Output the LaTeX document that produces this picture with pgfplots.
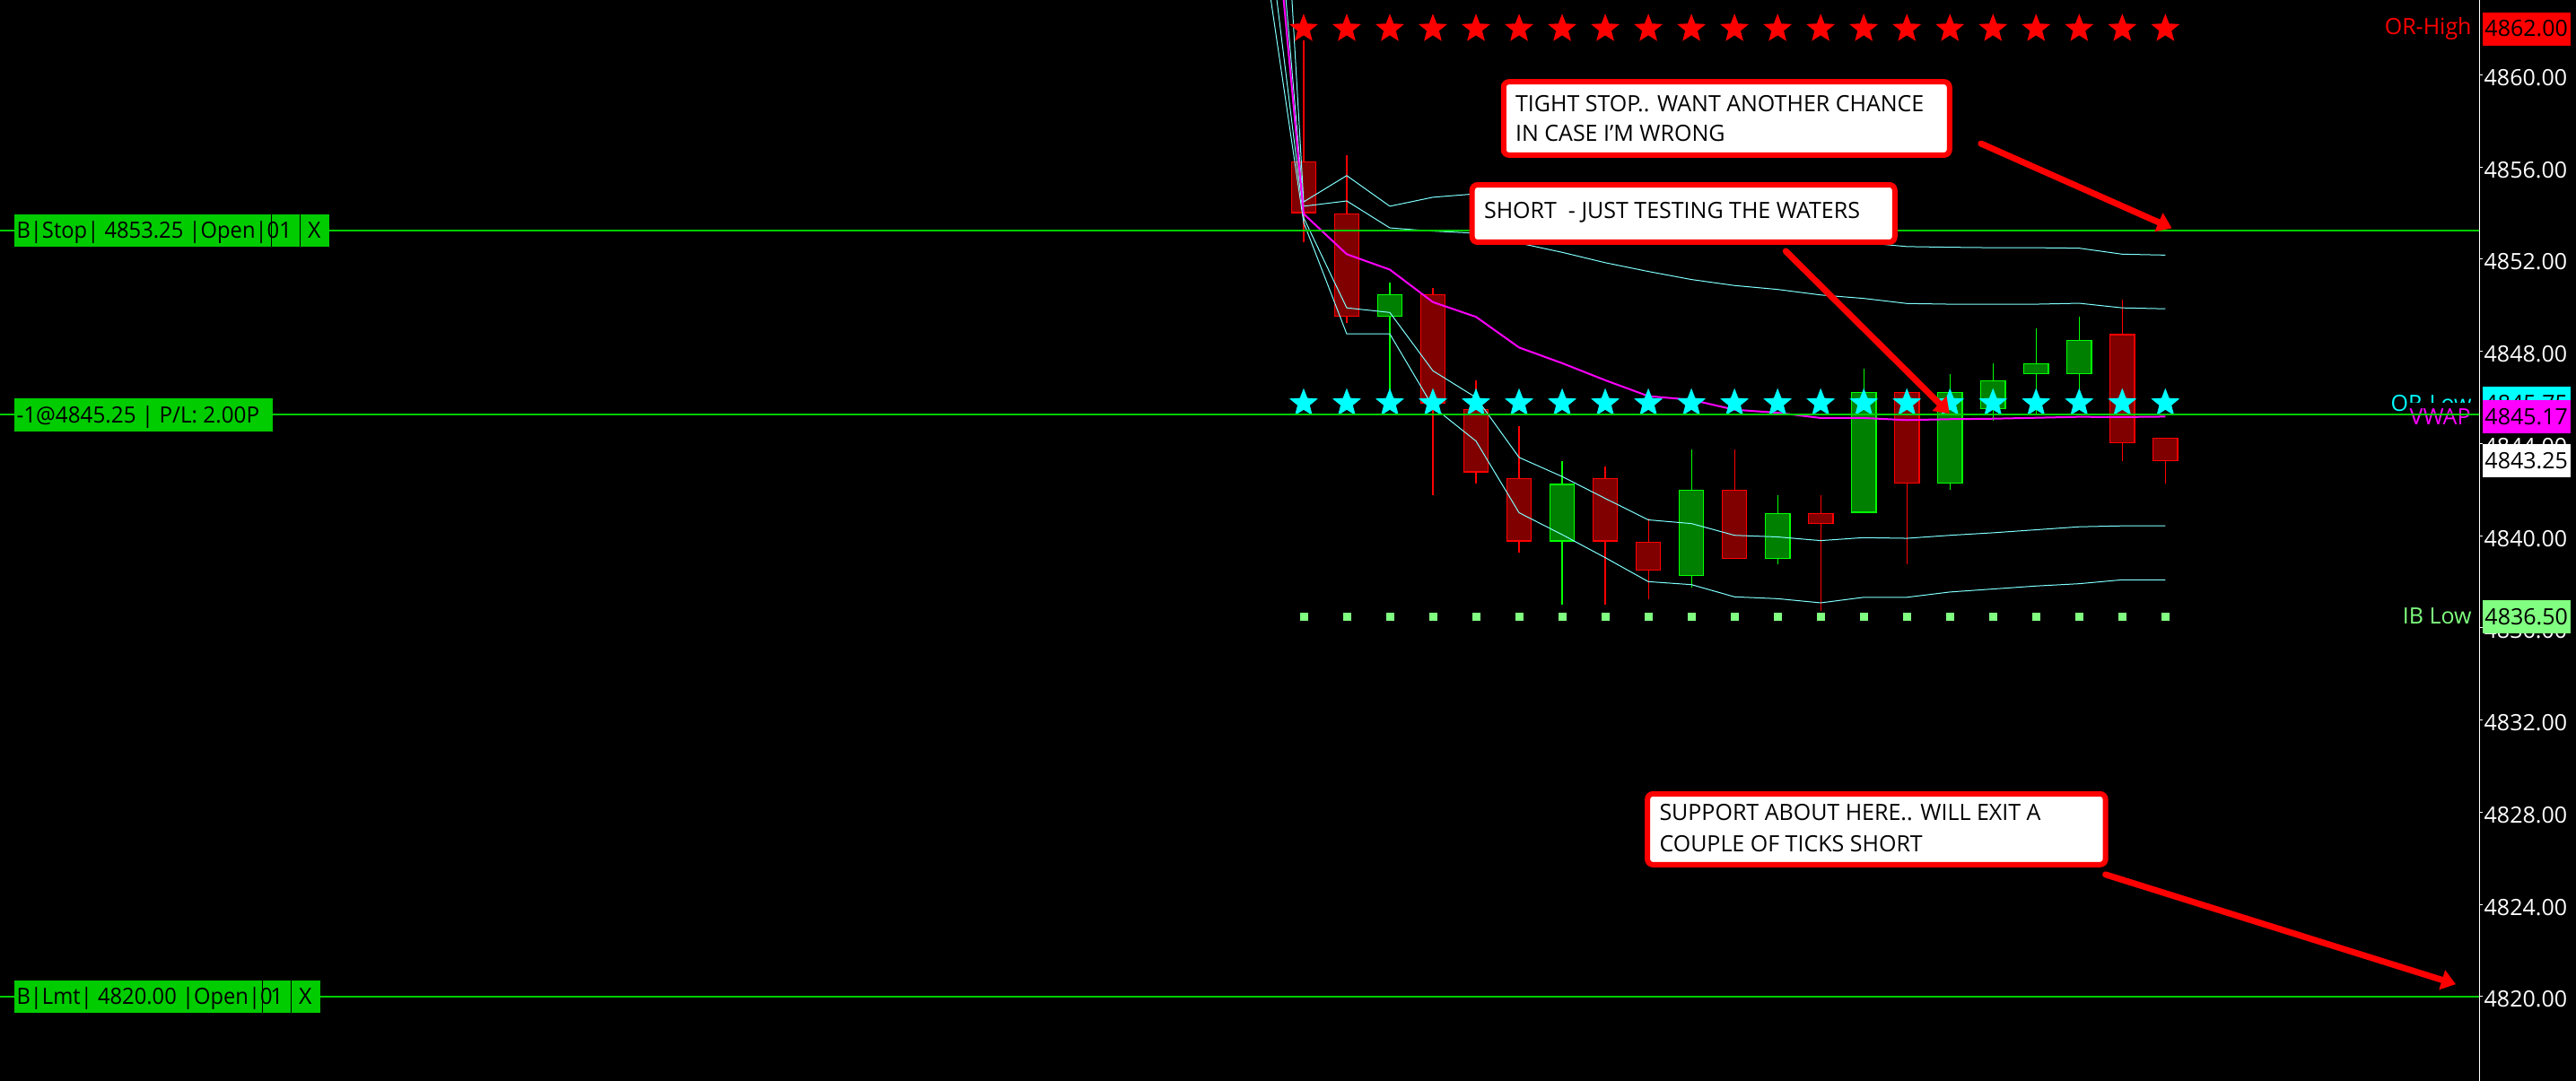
\documentclass[border=0pt]{standalone}
\usepackage{fontspec}
\setmainfont{Open Sans}
\usepackage{pgfplots}
\usepackage{pgfplotstable}
\pgfplotsset{compat=1.18}
\usetikzlibrary{arrows.meta}

\definecolor{cdn}{RGB}{255,0,0}
\definecolor{cdnfill}{RGB}{128,0,0}
\definecolor{cup}{RGB}{0,255,0}
\definecolor{cupfill}{RGB}{0,128,0}
\definecolor{band}{RGB}{128,255,255}
\definecolor{vwap}{RGB}{255,0,255}
\definecolor{lvl}{RGB}{0,204,0}
\definecolor{ib}{RGB}{128,255,128}
\definecolor{orlow}{RGB}{0,255,255}

\newcommand\fsz{\fontsize{12.5bp}{15bp}\selectfont}

\pgfdeclareplotmark{fstar}{%
  \pgfpathmoveto{\pgfpointpolar{90}{\pgfplotmarksize}}%
  \pgfpathlineto{\pgfpointpolar{126}{0.43\pgfplotmarksize}}%
  \pgfpathlineto{\pgfpointpolar{162}{\pgfplotmarksize}}%
  \pgfpathlineto{\pgfpointpolar{198}{0.43\pgfplotmarksize}}%
  \pgfpathlineto{\pgfpointpolar{234}{\pgfplotmarksize}}%
  \pgfpathlineto{\pgfpointpolar{270}{0.43\pgfplotmarksize}}%
  \pgfpathlineto{\pgfpointpolar{306}{\pgfplotmarksize}}%
  \pgfpathlineto{\pgfpointpolar{342}{0.43\pgfplotmarksize}}%
  \pgfpathlineto{\pgfpointpolar{18}{\pgfplotmarksize}}%
  \pgfpathlineto{\pgfpointpolar{54}{0.43\pgfplotmarksize}}%
  \pgfpathclose
  \pgfusepathqfill
}

% candles: index, low, body low, body high, high
\pgfplotstableread{
i   lo      bl      bh      hi
0   4852.75 4854.00 4856.25 4861.50
1   4849.25 4849.50 4854.00 4856.50
3   4841.75 4845.75 4850.50 4850.75
4   4842.25 4842.75 4845.50 4846.75
5   4839.25 4839.75 4842.50 4844.75
7   4837.00 4839.75 4842.50 4843.00
8   4837.25 4838.50 4839.75 4840.75
10  4839.00 4839.00 4842.00 4843.75
12  4836.75 4840.50 4841.00 4841.75
14  4838.75 4842.25 4846.25 4846.25
19  4843.25 4844.00 4848.75 4850.25
20  4842.25 4843.25 4844.25 4844.25
}\down

\pgfplotstableread{
i   lo      bl      bh      hi
2   4845.75 4849.50 4850.50 4851.00
6   4837.00 4839.75 4842.25 4843.25
9   4837.75 4838.25 4842.00 4843.75
11  4838.75 4839.00 4841.00 4841.75
13  4841.00 4841.00 4846.25 4847.25
15  4842.00 4842.25 4846.25 4847.00
16  4845.00 4845.50 4846.75 4847.50
17  4845.25 4847.00 4847.50 4849.00
18  4845.50 4847.00 4848.50 4849.50
}\upc

\pgfplotstableread{
i   u2      u1      vw      l1      l2
-1  4886.90 4876.10 4874.00 4869.00 4866.30
0   4854.49 4854.30 4853.97 4853.80 4853.60
1   4855.63 4854.53 4852.22 4849.89 4848.76
2   4854.30 4853.36 4851.55 4849.69 4848.76
3   4854.69 4853.22 4850.14 4847.16 4845.60
4   4854.84 4853.13 4849.50 4846.00 4844.11
5   4854.52 4852.70 4848.17 4843.40 4841.00
6   4854.21 4852.30 4847.49 4842.57 4840.05
7   4853.87 4851.85 4846.75 4841.62 4839.05
8   4853.57 4851.47 4846.06 4840.69 4838.01
9   4853.33 4851.12 4845.90 4840.53 4837.88
10  4853.11 4850.86 4845.47 4840.02 4837.35
11  4852.98 4850.69 4845.34 4839.95 4837.27
12  4852.85 4850.45 4845.11 4839.79 4837.09
13  4852.72 4850.30 4845.11 4839.92 4837.33
14  4852.55 4850.08 4845.02 4839.89 4837.33
15  4852.52 4850.05 4845.06 4840.02 4837.56
16  4852.50 4850.05 4845.08 4840.13 4837.69
17  4852.50 4850.05 4845.12 4840.26 4837.82
18  4852.48 4850.09 4845.16 4840.39 4837.92
19  4852.22 4849.89 4845.15 4840.43 4838.09
20  4852.18 4849.85 4845.17 4840.43 4838.09
}\bands

\pgfplotstableread{
i  orh   orl      ibl
0  4862  4845.75  4836.5
1  4862  4845.75  4836.5
2  4862  4845.75  4836.5
3  4862  4845.75  4836.5
4  4862  4845.75  4836.5
5  4862  4845.75  4836.5
6  4862  4845.75  4836.5
7  4862  4845.75  4836.5
8  4862  4845.75  4836.5
9  4862  4845.75  4836.5
10 4862  4845.75  4836.5
11 4862  4845.75  4836.5
12 4862  4845.75  4836.5
13 4862  4845.75  4836.5
14 4862  4845.75  4836.5
15 4862  4845.75  4836.5
16 4862  4845.75  4836.5
17 4862  4845.75  4836.5
18 4862  4845.75  4836.5
19 4862  4845.75  4836.5
20 4862  4845.75  4836.5
}\levels

\tikzset{
  note/.style={draw=red, line width=3bp, fill=white, rounded corners=3bp},
  notearrow/.style={draw=red, line width=3.5bp, line cap=round, -{Triangle[length=8bp,width=11bp]}},
  tag/.style={fill=lvl},
  tagtxt/.style={inner sep=0pt, font=\fsz, text=black},
  pbox/.style={anchor=west, inner xsep=1.2bp, inner ysep=0pt, minimum height=18.5bp, text width=46.5bp, align=left, text=black, font=\fsz},
}
\pgfplotsset{
  wick/.style={draw=none, mark=none, forget plot,
    error bars/.cd, y dir=plus, y explicit, error mark=none,
    error bar style={draw=#1, line width=0.6bp}},
  body/.style 2 args={draw=none, mark=none, forget plot,
    error bars/.cd, y dir=plus, y explicit, error mark=none,
    error bar style={draw=#1, line width=#2, line cap=butt}},
}

\begin{document}
\begin{tikzpicture}
\fill[black] (0,0) rectangle (1435.5bp,602.5bp);
\begin{axis}[
  at={(0,0)}, anchor=south west,
  scale only axis, width=1381.65bp, height=602.5bp,
  xmin=-30.257, xmax=27.287, ymin=4816.34, ymax=4863.25,
  axis x line=none, axis y line*=right,
  y axis line style={white, line width=0.5bp, -},
  xtick=\empty,
  ytick={4820,4824,...,4860},
  ytick style={white, line width=0.5bp},
  tick align=outside, major tick length=2bp,
  yticklabel style={font=\fsz, text=white, anchor=west, inner sep=0pt, xshift=0.5bp, yshift=-1.5bp,
    /pgf/number format/fixed, /pgf/number format/fixed zerofill,
    /pgf/number format/precision=2, /pgf/number format/1000 sep={},
    /pgf/number format/assume math mode=true},
  clip mode=individual,
]
% candles: wicks, body border, body fill
\addplot[wick=cdn] table[x=i, y=lo, y error plus expr=\thisrow{hi}-\thisrow{lo}]{\down};
\addplot[body={cdn}{14.35bp}] table[x=i, y=bl, y error plus expr=\thisrow{bh}-\thisrow{bl}]{\down};
\addplot[body={cdnfill}{13.15bp}] table[x=i, y expr=\thisrow{bl}+0.047, y error plus expr=\thisrow{bh}-\thisrow{bl}-0.094]{\down};
\addplot[wick=cup] table[x=i, y=lo, y error plus expr=\thisrow{hi}-\thisrow{lo}]{\upc};
\addplot[body={cup}{14.35bp}] table[x=i, y=bl, y error plus expr=\thisrow{bh}-\thisrow{bl}]{\upc};
\addplot[body={cupfill}{13.15bp}] table[x=i, y expr=\thisrow{bl}+0.047, y error plus expr=\thisrow{bh}-\thisrow{bl}-0.094]{\upc};
% bands and vwap
\addplot[band, line width=0.5bp, mark=none] table[x=i, y=u2]{\bands};
\addplot[band, line width=0.5bp, mark=none] table[x=i, y=u1]{\bands};
\addplot[band, line width=0.5bp, mark=none] table[x=i, y=l1]{\bands};
\addplot[band, line width=0.5bp, mark=none] table[x=i, y=l2]{\bands};
\addplot[vwap, line width=1bp, mark=none] table[x=i, y=vw]{\bands};
% level markers
\addplot[only marks, mark=fstar, mark size=8.4bp, color=red] table[x=i, y=orh]{\levels};
\addplot[only marks, mark=fstar, mark size=8.4bp, color=orlow] table[x=i, y=orl]{\levels};
\addplot[only marks, mark=square*, mark size=2bp, color=ib] table[x=i, y=ibl]{\levels};

% level names left of the price scale
\node[anchor=east, inner sep=0pt, font=\fsz, text=red] at ([xshift=-4.15bp]axis cs:27.287,4862) {OR-High};
\node[anchor=east, inner sep=0pt, font=\fsz, text=orlow] at ([xshift=-4.15bp]axis cs:27.287,4845.75) {OR-Low};
\node[anchor=east, inner xsep=0.5bp, inner ysep=0pt, minimum height=16bp, fill=black, font=\fsz, text=vwap] at ([xshift=-4.15bp]axis cs:27.287,4845.15) {VWAP};
\node[anchor=east, inner sep=0pt, font=\fsz, text=ib] at ([xshift=-4.15bp]axis cs:27.287,4836.5) {IB Low};

% order lines
\addplot[lvl, line width=1bp, mark=none] coordinates {(-30.257,4853.25) (27.287,4853.25)};
\addplot[lvl, line width=1bp, mark=none] coordinates {(-30.257,4845.25) (27.287,4845.25)};
\addplot[lvl, line width=1bp, mark=none] coordinates {(-30.257,4820.00) (27.287,4820.00)};

% order tags on the left
\fill[tag] (axis cs:-29.925,4853.965) rectangle (axis cs:-22.62,4852.535);
\draw[black, line width=0.5bp] (axis cs:-23.96,4853.965) -- (axis cs:-23.96,4852.535);
\draw[black, line width=0.5bp] (axis cs:-23.30,4853.965) -- (axis cs:-23.30,4852.535);
\node[tagtxt, anchor=base west] at (axis cs:-29.88,4852.90) {\scalebox{0.95}[1]{B|Stop| 4853.25 |Open|0}};
\node[tagtxt, anchor=base] at (axis cs:-23.63,4852.90) {1};
\node[tagtxt, anchor=base] at (axis cs:-22.96,4852.90) {X};

\fill[tag] (axis cs:-29.925,4845.965) rectangle (axis cs:-23.93,4844.535);
\node[tagtxt, anchor=base west] at (axis cs:-29.88,4844.90) {\scalebox{0.97}[1]{-1@4845.25 | P/L: 2.00P}};

\fill[tag] (axis cs:-29.925,4820.715) rectangle (axis cs:-22.83,4819.285);
\draw[black, line width=0.5bp] (axis cs:-24.16,4820.715) -- (axis cs:-24.16,4819.285);
\draw[black, line width=0.5bp] (axis cs:-23.50,4820.715) -- (axis cs:-23.50,4819.285);
\node[tagtxt, anchor=base west] at (axis cs:-29.88,4819.65) {\scalebox{0.95}[1]{B|Lmt| 4820.00 |Open|0}};
\node[tagtxt, anchor=base] at (axis cs:-23.83,4819.65) {1};
\node[tagtxt, anchor=base] at (axis cs:-23.17,4819.65) {X};

% annotations
\draw[note] (axis cs:4.64,4859.70) rectangle (axis cs:14.99,4856.52);
\node[tagtxt, anchor=base west] at (axis cs:4.91,4858.42) {TIGHT STOP.. WANT ANOTHER CHANCE};
\node[tagtxt, anchor=base west] at (axis cs:4.91,4857.13) {IN CASE I'M WRONG};

\draw[note] (axis cs:3.91,4855.23) rectangle (axis cs:13.72,4852.74);
\node[tagtxt, anchor=base west] at (axis cs:4.18,4853.79) {SHORT\ \ - JUST TESTING THE WATERS};

\draw[note] (axis cs:7.98,4828.80) rectangle (axis cs:18.61,4825.73);
\node[tagtxt, anchor=base west] at (axis cs:8.25,4827.63) {SUPPORT ABOUT HERE.. WILL EXIT A};
\node[tagtxt, anchor=base west] at (axis cs:8.25,4826.30) {COUPLE OF TICKS SHORT};

\draw[notearrow] (axis cs:15.72,4857.02) -- (axis cs:20.15,4853.35);
\draw[notearrow] (axis cs:11.19,4852.35) -- (axis cs:14.99,4845.30);
\draw[notearrow] (axis cs:18.61,4825.30) -- (axis cs:26.74,4820.54);

% price boxes on the scale
\node[pbox, fill=red] at ([xshift=1.7bp]axis cs:27.287,4862) {4862.00};
\node[pbox, fill=orlow] at ([xshift=1.7bp]axis cs:27.287,4845.75) {4845.75};
\node[pbox, fill=vwap] at ([xshift=1.7bp]axis cs:27.287,4845.17) {4845.17};
\node[pbox, fill=white] at ([xshift=1.7bp]axis cs:27.287,4843.25) {4843.25};
\node[pbox, fill=ib] at ([xshift=1.7bp]axis cs:27.287,4836.5) {4836.50};
\end{axis}
\pgfresetboundingbox
\path (0,0) rectangle (1435.5bp,602.5bp);
\end{tikzpicture}
\end{document}
